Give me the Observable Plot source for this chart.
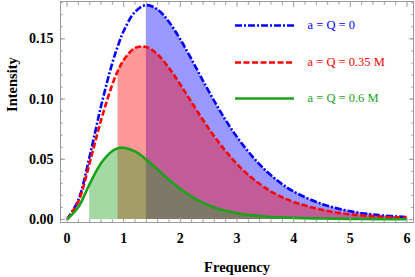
<!DOCTYPE html>
<html><head><meta charset="utf-8">
<script src="https://cdn.jsdelivr.net/npm/d3@7"></script>
<script src="https://cdn.jsdelivr.net/npm/@observablehq/plot@0.6"></script>
<style>html,body{margin:0;padding:0;background:#fff} svg{display:block}</style>
</head><body><div id="chart"></div>
<script>
// ---- data ----
const freq = [0,0.2,0.4,0.6,0.8,0.9,1.0,1.2,1.4,1.6,1.8,2.0,2.2,2.4,2.6,2.8,3.0,3.25,3.5,3.75,4.0,4.5,5.0,5.5,6.0];
const intensityQ0   = [0,0.0163,0.0525,0.094,0.130,0.1444,0.1565,0.1724,0.1780,0.1743,0.1640,0.1495,0.1328,0.1152,0.0982,0.0825,0.0685,0.0535,0.0410,0.0310,0.0232,0.0128,0.0068,0.0036,0.0020];
const intensityQ035 = [0,0.0149,0.0471,0.0823,0.1121,0.1236,0.1324,0.1424,0.1433,0.1370,0.1258,0.1120,0.0972,0.0826,0.0690,0.0568,0.0460,0.0350,0.0262,0.0195,0.0146,0.0080,0.0043,0.0024,0.0014];
const intensityQ06  = [0,0.0103,0.0296,0.0467,0.0569,0.0591,0.0596,0.0565,0.0497,0.0414,0.0330,0.0254,0.0190,0.0138,0.0100,0.0072,0.0052,0.0036,0.0025,0.0018,0.0013,0.0008,0.0005,0.0003,0.0002];
const seriesLabels = ["a = Q = 0", "a = Q = 0.35 M", "a = Q = 0.6 M"];
const fillStart = [1.4, 0.9, 0.4];
const xTicks = [0,1,2,3,4,5,6];
const yTicks = [0,0.05,0.10,0.15];

// ---- styles / layout ----
const colors = ["#0000ff", "#ff0000", "#1aa31a"];
const dashes = ["7,2,2,2", "6,2.5", null];
const values = [intensityQ0, intensityQ035, intensityQ06];
const legendY = [0.1611, 0.1304, 0.1005];   // legend rows (layout, in y units)
const legendX1 = 2.974, legendX2 = 4.015, legendTextX = 4.245;
const frameColor = "#9a9a9a";
const serif = "'Liberation Serif','Times New Roman',serif";

const series = values.map((v, i) => freq.map((x, j) => ({x, y: v[j], s: i})));
const xMinor = d3.range(0, 6.001, 0.2).map(d => +d.toFixed(2)).filter(d => Math.abs(d - Math.round(d)) > 1e-6);
const yMinor = d3.range(0, 0.1801, 0.01).map(d => +d.toFixed(3));

const marks = [];
// areas
series.forEach((rows, i) => {
  marks.push(Plot.areaY(rows.filter(d => d.x >= fillStart[i] - 1e-9), {x: "x", y: "y", fill: colors[i], fillOpacity: 0.4, curve: "catmull-rom"}));
});
// lines
series.forEach((rows, i) => {
  marks.push(Plot.line(rows, {x: "x", y: "y", stroke: colors[i], strokeWidth: 2.6, strokeDasharray: dashes[i], strokeLinecap: "butt", curve: "catmull-rom"}));
});
// legend
seriesLabels.forEach((lab, i) => {
  marks.push(Plot.ruleY([legendY[i]], {x1: legendX1, x2: legendX2, stroke: colors[i], strokeWidth: 2.6, strokeDasharray: dashes[i], strokeLinecap: "butt"}));
  marks.push(Plot.text([lab], {x: legendTextX, y: legendY[i], text: d => d, textAnchor: "start", fill: colors[i], fontSize: 12.5, fontWeight: "normal", fontFamily: serif}));
});
// frame and inward ticks
marks.push(Plot.frame({stroke: frameColor}));
const none = () => "";
for (const anchor of ["bottom", "top"]) {
  marks.push(Plot.axisX(xTicks, {anchor, tickSize: -5, tickFormat: none, label: null, stroke: frameColor}));
  marks.push(Plot.axisX(xMinor, {anchor, tickSize: -2.7, tickFormat: none, label: null, stroke: frameColor}));
}
for (const anchor of ["left", "right"]) {
  marks.push(Plot.axisY(yTicks, {anchor, tickSize: -5, tickFormat: none, label: null, stroke: frameColor}));
  marks.push(Plot.axisY(yMinor, {anchor, tickSize: -2.7, tickFormat: none, label: null, stroke: frameColor}));
}
// tick labels
marks.push(Plot.axisX(xTicks, {anchor: "bottom", tickSize: 0, tickPadding: 11, tickFormat: d => String(d), label: null, fill: "black", fontSize: 14}));
marks.push(Plot.axisY(yTicks, {anchor: "left", tickSize: 0, tickPadding: 7, tickFormat: d3.format(".2f"), label: null, fill: "black", fontSize: 14}));
// axis titles
marks.push(Plot.text(["Frequency"], {frameAnchor: "bottom", dy: 45, text: d => d, fontSize: 14.5, fontWeight: "bold", fill: "black", lineAnchor: "middle"}));
marks.push(Plot.text(["Intensity"], {frameAnchor: "left", dx: -48, rotate: -90, text: d => d, fontSize: 14.5, fontWeight: "bold", fill: "black", lineAnchor: "middle"}));

const plot = Plot.plot({
  width: 415,
  height: 277,
  marginLeft: 60,
  marginRight: 2,
  marginTop: 1,
  marginBottom: 55,
  x: {domain: [-0.115, 6.115]},
  y: {domain: [-0.0025, 0.181]},
  style: {fontFamily: serif, fontSize: "14px", fontWeight: "bold", background: "#fff", overflow: "visible"},
  marks
});
document.getElementById("chart").appendChild(plot);
</script>
</body></html>
